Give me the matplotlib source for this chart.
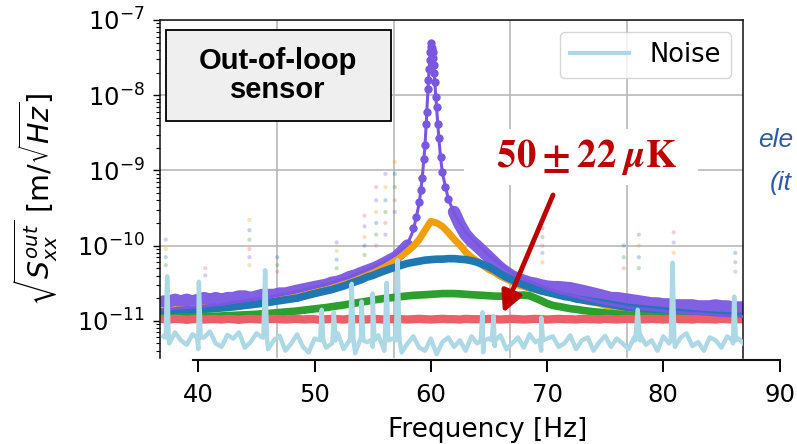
import numpy as np
import matplotlib
matplotlib.use("Agg")
import matplotlib.pyplot as plt
from matplotlib.patches import Rectangle
from matplotlib.lines import Line2D

UNIT = 1e-11  # all values below are in units of 1e-11 m/sqrt(Hz)

# common frequency grid of the scatter data (Hz)
freq = np.arange(37.0, 87.01, 0.5)

orange_v = [1.35, 1.35, 1.40, 1.40, 1.40, 1.45, 1.45, 1.50, 1.50, 1.50,
            1.55, 1.55, 1.60, 1.60, 1.65, 1.70, 1.70, 1.75, 1.80, 1.85,
            1.90, 2.00, 2.05, 2.10, 2.20, 2.30, 2.40, 2.50, 2.60, 2.75,
            2.90, 3.10, 3.30, 3.50, 3.80, 4.10, 4.40, 4.80, 5.30, 5.90,
            6.6, 7.4, 8.4, 9.8, 12, 16, 21, 20, 18, 15,
            12.2, 10.2, 8.2, 7.0, 6.2, 5.4, 4.8, 4.4, 3.9, 3.6,
            3.3, 3.0, 2.85, 2.7, 2.6, 2.5, 2.4, 2.3, 2.2, 2.15,
            2.05, 1.95, 1.9, 1.8, 1.75, 1.7, 1.6, 1.55, 1.5, 1.45,
            1.4, 1.35, 1.3, 1.3, 1.25, 1.25, 1.2, 1.2, 1.15, 1.15,
            1.15, 1.1, 1.1, 1.1, 1.08, 1.08, 1.06, 1.06, 1.05, 1.05,
            1.05]

blue_v = [1.30, 1.30, 1.32, 1.34, 1.36, 1.38, 1.40, 1.42, 1.44, 1.46,
          1.48, 1.50, 1.53, 1.56, 1.60, 1.63, 1.67, 1.70, 1.75, 1.80,
          1.85, 1.90, 1.95, 2.00, 2.10, 2.20, 2.30, 2.40, 2.50, 2.60,
          2.75, 2.90, 3.10, 3.30, 3.50, 3.80, 4.00, 4.30, 4.60, 4.90,
          5.2, 5.5, 5.8, 6.0, 6.2, 6.4, 6.5, 6.6, 6.6, 6.7,
          6.7, 6.6, 6.5, 6.3, 6.0, 5.6, 5.2, 4.7, 4.2, 3.8,
          3.5, 3.2, 3.0, 2.8, 2.65, 2.5, 2.4, 2.3, 2.2, 2.1,
          2.05, 1.95, 1.9, 1.85, 1.8, 1.75, 1.7, 1.65, 1.6, 1.55,
          1.5, 1.48, 1.45, 1.42, 1.4, 1.38, 1.35, 1.33, 1.3, 1.28,
          1.26, 1.24, 1.22, 1.2, 1.19, 1.18, 1.17, 1.16, 1.15, 1.14,
          1.13]

green_v = [1.10, 1.10, 1.10, 1.12, 1.12, 1.12, 1.14, 1.14, 1.15, 1.15,
           1.16, 1.17, 1.18, 1.19, 1.20, 1.21, 1.22, 1.24, 1.25, 1.27,
           1.29, 1.31, 1.33, 1.35, 1.38, 1.41, 1.44, 1.47, 1.50, 1.54,
           1.58, 1.62, 1.67, 1.72, 1.77, 1.82, 1.88, 1.93, 1.98, 2.02,
           2.06, 2.10, 2.14, 2.18, 2.20, 2.22, 2.25, 2.27, 2.30, 2.30,
           2.30, 2.28, 2.25, 2.22, 2.20, 2.18, 2.15, 2.13, 2.12, 2.12,
           2.15, 2.18, 2.20, 2.15, 2.00, 1.85, 1.70, 1.60, 1.55, 1.50,
           1.45, 1.42, 1.38, 1.35, 1.32, 1.30, 1.27, 1.25, 1.23, 1.21,
           1.19, 1.17, 1.16, 1.15, 1.14, 1.13, 1.12, 1.11, 1.10, 1.10,
           1.09, 1.09, 1.08, 1.08, 1.07, 1.07, 1.07, 1.06, 1.06, 1.06,
           1.06]

red_v = [1.05, 1.04, 1.06, 1.05, 1.03, 1.05, 1.06, 1.04, 1.05, 1.05,
         1.04, 1.06, 1.05, 1.03, 1.05, 1.06, 1.05, 1.04, 1.05, 1.06,
         1.05, 1.04, 1.05, 1.06, 1.04, 1.05, 1.05, 1.03, 1.05, 1.06,
         1.05, 1.04, 1.06, 1.05, 1.05, 1.04, 1.06, 1.05, 1.04, 1.05,
         1.06, 1.05, 1.04, 1.05, 1.06, 1.05, 1.04, 1.05, 1.06, 1.05,
         1.05, 1.04, 1.06, 1.05, 1.05, 1.04, 1.06, 1.05, 1.04, 1.05,
         1.06, 1.05, 1.04, 1.05, 1.06, 1.05, 1.04, 1.05, 1.06, 1.05,
         1.05, 1.04, 1.06, 1.05, 1.05, 1.04, 1.06, 1.05, 1.04, 1.05,
         1.06, 1.05, 1.04, 1.05, 1.06, 1.05, 1.04, 1.05, 1.06, 1.05,
         1.05, 1.04, 1.06, 1.05, 1.05, 1.04, 1.06, 1.05, 1.04, 1.05,
         1.05]

# purple scatter: wings on 0.5 Hz grid, peak read on a finer grid
purple_left_f = np.arange(37.0, 58.01, 0.5)
purple_left_v = [1.8, 1.8, 1.9, 1.8, 1.9, 1.8, 1.9, 2.0, 1.9, 2.0,
                 1.9, 2.0, 2.0, 2.1, 2.1, 2.0, 2.1, 2.2, 2.2, 2.2,
                 2.3, 2.3, 2.4, 2.5, 2.6, 2.7, 2.8, 2.9, 3.0, 3.2,
                 3.3, 3.5, 3.8, 4.0, 4.3, 4.6, 4.9, 5.3, 5.8, 6.4,
                 7.0, 8.3, 10]
purple_peak_f = [58.5, 58.75, 59.0, 59.15, 59.25, 59.4, 59.5, 59.6, 59.65, 59.75,
                 59.8, 59.85, 59.9, 59.95, 60.0, 60.05, 60.1, 60.15, 60.2, 60.25,
                 60.3, 60.35, 60.45, 60.5, 60.6, 60.7, 60.85, 61.0, 61.25, 61.5]
purple_peak_v = [17, 24, 38, 55, 80, 140, 220, 420, 600, 1200,
                 1600, 2200, 2900, 3700, 4400, 4900, 4300, 3800, 3100, 2500,
                 2000, 1500, 950, 700, 420, 270, 150, 95, 60, 42]
purple_right_f = np.arange(62.0, 87.01, 0.5)
purple_right_v = [28, 19, 14, 11.5, 9.8, 8.3, 7.0, 5.9, 5.0, 4.4,
                  3.9, 3.6, 3.4, 3.2, 3.1, 2.95, 2.85, 2.8, 2.8, 2.75,
                  2.7, 2.6, 2.5, 2.4, 2.3, 2.2, 2.1, 2.0, 2.0, 1.95,
                  1.9, 1.85, 1.8, 1.75, 1.7, 1.7, 1.65, 1.65, 1.6, 1.6,
                  1.6, 1.6, 1.55, 1.55, 1.55, 1.6, 1.55, 1.55, 1.5, 1.5,
                  1.5]

# purple resonance fit curve
purple_fit_f = [37, 38, 39, 40, 41, 42, 43, 44, 45, 46, 47, 48, 49, 50, 51, 52, 53, 54, 55, 56, 57,
                57.5, 58, 58.5, 59, 59.25, 59.5, 59.65, 59.75, 59.85, 59.95, 60.05, 60.15, 60.25,
                60.35, 60.5, 60.7, 60.85, 61, 61.5, 62,
                63, 64, 65, 66, 67, 68, 69, 70, 71, 72, 73, 74, 75, 76, 77, 78, 79, 80, 81, 82,
                83, 84, 85, 86, 87]
purple_fit_v = [1.4, 1.45, 1.5, 1.55, 1.6, 1.65, 1.75, 1.85, 1.95, 2.05, 2.2, 2.35, 2.55, 2.8,
                3.05, 3.4, 3.8, 4.4, 5.1, 6.1, 7.6,
                8.8, 10.5, 16, 36, 75, 210, 560, 1150, 2100, 3600, 4800, 3700, 2400, 1450, 680,
                260, 145, 92, 42, 27,
                15, 10.5, 7.5, 5.6, 4.4, 3.6, 3.1, 2.7, 2.4, 2.2, 2.0, 1.85, 1.7, 1.6, 1.5, 1.45,
                1.4, 1.35, 1.3, 1.27, 1.24, 1.21, 1.18, 1.16, 1.14]

# noise floor (0.5 Hz grid) and its narrow lines
noise_v = [0.62, 0.5, 0.7, 0.55, 0.48, 0.66, 0.42, 0.6, 0.72, 0.5,
           0.45, 0.65, 0.58, 0.7, 0.44, 0.52, 0.68, 0.6, 0.42, 0.55,
           0.63, 0.4, 0.5, 0.66, 0.45, 0.38, 0.58, 0.62, 0.44, 0.5,
           0.68, 0.42, 0.55, 0.37, 0.6, 0.52, 0.45, 0.64, 0.4, 0.56,
           0.6, 0.38, 0.5, 0.62, 0.44, 0.4, 0.58, 0.36, 0.52, 0.6,
           0.45, 0.55, 0.4, 0.62, 0.5, 0.38, 0.58, 0.46, 0.64, 0.42,
           0.5, 0.6, 0.44, 0.66, 0.52, 0.4, 0.58, 0.62, 0.45, 0.5,
           0.64, 0.42, 0.55, 0.6, 0.4, 0.52, 0.63, 0.45, 0.58, 0.5,
           0.42, 0.6, 0.66, 0.48, 0.55, 0.4, 0.62, 0.5, 0.45, 0.6,
           0.68, 0.46, 0.52, 0.4, 0.6, 0.55, 0.44, 0.62, 0.5, 0.58,
           0.48]
spike_f = [37.2, 37.32, 37.45, 39.9, 40.05, 40.2, 45.6, 45.75, 45.9,
           50.5, 50.62, 50.75, 51.55, 51.66, 51.8, 53.05, 53.2, 53.35,
           53.9, 54.05, 54.2, 54.85, 55.0, 55.15, 56.05, 56.2, 56.35,
           57.0, 57.15, 57.3, 64.3, 64.45, 64.6, 65.25, 65.4, 65.55,
           69.35, 69.5, 69.65, 77.6, 77.8, 78.0, 80.65, 80.8, 80.95,
           85.95, 86.1, 86.25]
spike_v = [0.6, 3.9, 0.6, 0.6, 3.3, 0.6, 0.6, 4.7, 0.6,
           0.55, 1.4, 0.55, 0.55, 1.3, 0.55, 0.55, 3.1, 0.55,
           0.55, 1.8, 0.55, 0.55, 2.3, 0.55, 0.55, 3.2, 0.55,
           0.55, 6.4, 0.55, 0.55, 1.3, 0.55, 0.55, 1.15, 0.55,
           0.55, 1.1, 0.55, 0.55, 1.4, 0.55, 0.55, 5.9, 0.55,
           0.55, 2.1, 0.55]

# faint outlier points at line frequencies
spur_f = [37.2] * 4 + [40.6] * 2 + [44.4] * 6 + [46.8] * 3 + [51.9] * 4 + [54.3] * 5 + \
         [55.3] * 6 + [56.1] * 6 + [56.9] * 5 + [69.6] * 6 + [76.6] * 3 + [77.9] * 4 + \
         [80.9] * 3 + [86.2] * 3
spur_v = [12, 9, 7, 5.5, 5, 4, 22, 16, 12, 9, 7, 5.5, 7, 5.5, 4.5, 11, 8.5, 6.5, 5,
          25, 18, 13, 10, 7.5, 60, 40, 28, 20, 14, 10, 90, 60, 40, 28, 20, 14,
          130, 90, 60, 40, 28, 22, 17, 13, 10, 8, 6, 10, 7, 5, 14, 10, 7, 5,
          15, 11, 8, 8, 6, 4.5]

C_PURPLE = "#7a57e2"
C_ORANGE = "#f29f0d"
C_BLUE = "#1f77b4"
C_GREEN = "#2ca02c"
C_RED = "#ec5f68"
C_NOISE = "#add8e6"

fig = plt.figure(figsize=(7.97, 4.44), dpi=100)
ax = fig.add_axes([160 / 797, 1 - 358 / 444, 583 / 797, 338 / 444])
ax.set_yscale("log")
ax.set_xlim(36.705, 86.86)
ax.set_ylim(10 ** -11.495, 1e-7)

u = UNIT
pal = [C_PURPLE, C_ORANGE, C_BLUE, C_GREEN, C_RED]
ax.scatter(spur_f, np.array(spur_v) * u, s=9, c=[pal[i % 5] for i in range(len(spur_f))],
           alpha=0.3, lw=0, zorder=1.5)

ax.plot(purple_left_f, np.array(purple_left_v) * u, color=C_PURPLE, lw=9, alpha=0.95,
        solid_capstyle="round", zorder=2)
ax.plot(purple_right_f, np.array(purple_right_v) * u, color=C_PURPLE, lw=9, alpha=0.95,
        solid_capstyle="round", zorder=2)
ax.plot(purple_peak_f, np.array(purple_peak_v) * u, "o", color=C_PURPLE, ms=5, zorder=2)
ax.plot(freq, np.array(orange_v) * u, color=C_ORANGE, lw=5, zorder=2.1)
ax.plot(freq, np.array(blue_v) * u, color=C_BLUE, lw=5.5, zorder=2.2)
ax.plot(freq, np.array(green_v) * u, color=C_GREEN, lw=5.5, zorder=2.3)
ax.plot(freq, np.array(red_v) * u, color=C_RED, lw=6, zorder=2.4)
ax.plot(purple_fit_f, np.array(purple_fit_v) * u, color=C_PURPLE, lw=2.2, zorder=3)

nf = np.concatenate([freq, spike_f])
nv = np.concatenate([noise_v, spike_v])
order = np.argsort(nf)
ax.plot(nf[order], nv[order] * u, color=C_NOISE, lw=3.2, zorder=4)

# grid of the original frame
ax.set_xticks([46.78, 56.8, 66.82, 76.84])
ax.tick_params(axis="x", length=0, labelbottom=False)
ax.set_yticks([1e-11, 1e-10, 1e-9, 1e-8, 1e-7])
ax.grid(True, which="major", color="#b9b9b9", lw=1.2, zorder=0)
ax.set_axisbelow(True)
ax.tick_params(axis="y", which="major", direction="out", length=5, width=1, labelsize=17.5, pad=6)
ax.tick_params(axis="y", which="minor", direction="out", length=3, width=0.8)
ax.spines["bottom"].set_visible(False)
for s in ("left", "top", "right"):
    ax.spines[s].set_linewidth(1.1)
    ax.spines[s].set_color("#111111")

ax.legend(handles=[Line2D([], [], color=C_NOISE, lw=3)], labels=["Noise"], loc="upper right",
          fontsize=18.5, handlelength=2.3, handletextpad=0.8, borderaxespad=0.45, framealpha=0.8)

# labelled box
ax.add_patch(Rectangle((0.0103, 0.7012), 0.3859, 0.2692, transform=ax.transAxes,
                       facecolor="#efefef", edgecolor="black", lw=1.3, zorder=6))
ax.text(0.2024, 0.837, "Out-of-loop\nsensor", transform=ax.transAxes, ha="center", va="center",
        fontsize=21, fontweight="bold", family="Liberation Sans", linespacing=1.05, zorder=7)

# temperature annotation
ax.text(0.7221, 0.5947, r"  $\mathbf{50\pm22}\ \boldsymbol{\mu}\mathbf{K}$  ", transform=ax.transAxes,
        fontsize=28, color="#c00000", ha="center", va="center", math_fontfamily="stix",
        bbox=dict(facecolor="white", edgecolor="none", pad=6), zorder=6)
ax.annotate("", xy=(0.5883, 0.1331), xycoords="axes fraction", xytext=(0.6741, 0.4822),
            textcoords="axes fraction",
            arrowprops=dict(arrowstyle="-|>,head_length=0.5,head_width=0.25", color="#c00000",
                            lw=3.5, mutation_scale=25, shrinkA=0, shrinkB=0), zorder=7)

# separate frequency axis
ax2 = fig.add_axes([193 / 797, 1 - 360 / 444, 587 / 797, 1e-4])
ax2.set_xlim(39.544, 90.04)
ax2.set_xticks([40, 50, 60, 70, 80, 90])
ax2.set_yticks([])
ax2.patch.set_alpha(0)
for s in ("left", "top", "right"):
    ax2.spines[s].set_visible(False)
ax2.spines["bottom"].set_linewidth(1.5)
ax2.spines["bottom"].set_color("#111111")
ax2.tick_params(axis="x", direction="out", length=8.6, width=1.4, labelsize=17.5, pad=8)

fig.text(488 / 797, 1 - 437 / 444, "Frequency [Hz]", ha="center", va="baseline", fontsize=19)
fig.text(36 / 797, 1 - 199 / 444, r"$\sqrt{S_{xx}^{out}}$ [m/$\sqrt{Hz}$]", rotation=90,
         ha="center", va="center", fontsize=20.5)

fig.text(758 / 797, 1 - 147 / 444, "ele", fontsize=19, style="italic", family="Liberation Sans",
         color="#2f58a8", va="baseline")
fig.text(770 / 797, 1 - 190 / 444, "(it", fontsize=19, style="italic", family="Liberation Sans",
         color="#2f58a8", va="baseline")

fig.savefig("out.png", dpi=100)
